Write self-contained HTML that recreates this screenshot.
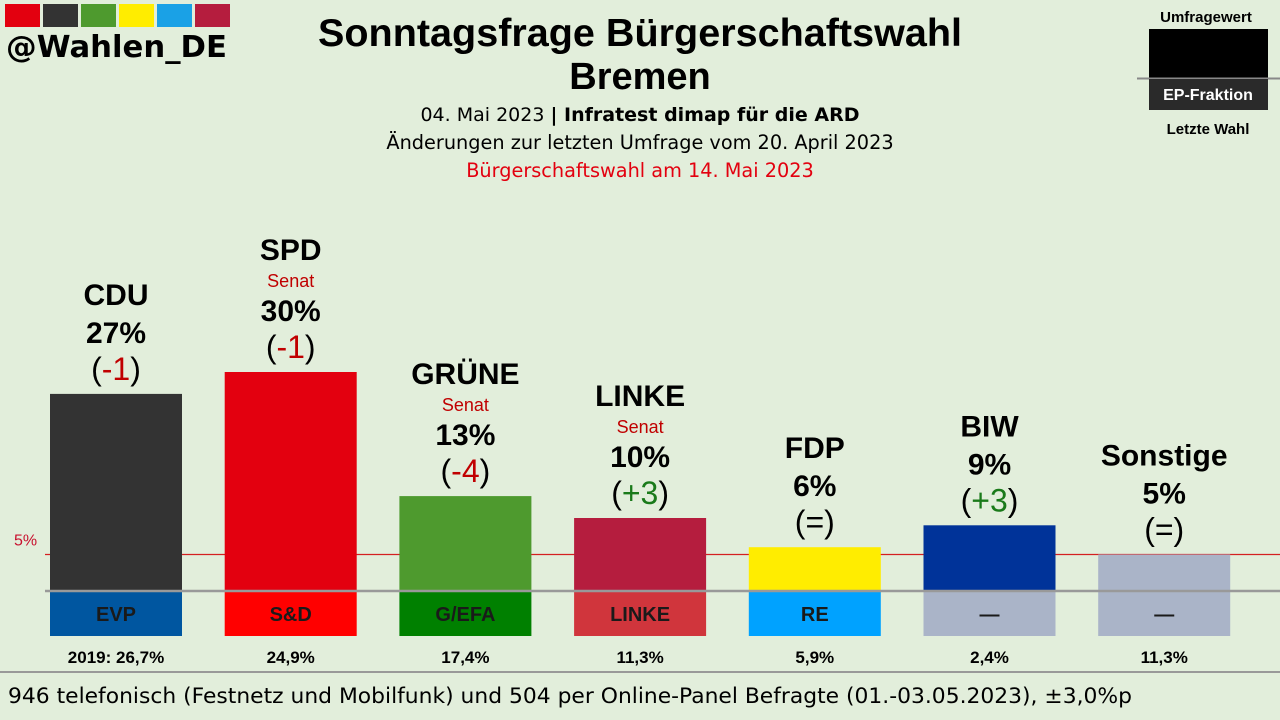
<!DOCTYPE html>
<html><head><meta charset="utf-8">
<style>
body{margin:0;background:#e2eedb;font-family:"Liberation Sans",sans-serif;}
svg{display:block}
.dv{font-family:"DejaVu Sans",sans-serif;}
</style></head>
<body>
<svg id="c" width="1280" height="720" xmlns="http://www.w3.org/2000/svg">
<rect width="1280" height="720" fill="#e2eedb"/>
<g>
<rect x="5" y="4" width="35" height="23" fill="#e3000f"/><rect x="43" y="4" width="35" height="23" fill="#333"/>
<rect x="81" y="4" width="35" height="23" fill="#4e9a2e"/><rect x="119" y="4" width="35" height="23" fill="#ffed00"/>
<rect x="157" y="4" width="35" height="23" fill="#1aa1e6"/><rect x="195" y="4" width="35" height="23" fill="#b51d3e"/>
<text class="dv" x="6" y="57" font-size="30" font-weight="bold" fill="#000" textLength="221" lengthAdjust="spacingAndGlyphs">@Wahlen_DE</text>
</g>
<text x="640" y="46" text-anchor="middle" font-size="39" font-weight="bold" textLength="644" lengthAdjust="spacingAndGlyphs">Sonntagsfrage Bürgerschaftswahl</text>
<text x="640" y="89" text-anchor="middle" font-size="38" font-weight="bold">Bremen</text>
<text class="dv" x="640" y="121" text-anchor="middle" font-size="19">04. Mai 2023 <tspan font-weight="bold">| Infratest dimap für die ARD</tspan></text>
<text class="dv" x="640" y="149" text-anchor="middle" font-size="19.3">Änderungen zur letzten Umfrage vom 20. April 2023</text>
<text class="dv" x="640" y="177" text-anchor="middle" font-size="19.3" fill="#e3000f">Bürgerschaftswahl am 14. Mai 2023</text>
<g>
<text x="1206" y="22" text-anchor="middle" font-size="15" font-weight="bold">Umfragewert</text>
<rect x="1149" y="29" width="119" height="49" fill="#000"/>
<line x1="1137" y1="78.5" x2="1280" y2="78.5" stroke="#888" stroke-width="2"/>
<rect x="1149" y="79" width="119" height="31" fill="#2a2a2a"/>
<text x="1208" y="100" text-anchor="middle" font-size="16" font-weight="bold" fill="#fff">EP-Fraktion</text>
<text x="1208" y="134" text-anchor="middle" font-size="15" font-weight="bold">Letzte Wahl</text>
</g>
<g id="bars"></g>
<line x1="0" y1="672" x2="1280" y2="672" stroke="#999" stroke-width="2"/>
<text class="dv" x="8" y="703" font-size="21.5" textLength="1124" lengthAdjust="spacingAndGlyphs">946 telefonisch (Festnetz und Mobilfunk) und 504 per Online-Panel Befragte (01.-03.05.2023), ±3,0%p</text>
</svg>
<script>
const parties=["CDU","SPD","GRÜNE","LINKE","FDP","BIW","Sonstige"];
const values=[27,30,13,10,6,9,5];
const changes=["-1","-1","-4","+3","=","+3","="];
const senat=[false,true,true,true,false,false,false];
const epGroups=["EVP","S&D","G/EFA","LINKE","RE","—","—"];
const lastElection=["2019: 26,7%","24,9%","17,4%","11,3%","5,9%","2,4%","11,3%"];
const barColors=["#333333","#e3000f","#4e9a2e","#b51d3e","#ffed00","#003399","#aab4c8"];
const epColors=["#0056a0","#ff0000","#008000","#d0353c","#00a2ff","#aab4c8","#aab4c8"];
const threshold=5;
const NS="http://www.w3.org/2000/svg";
const base=591, scale=7.3, x0=116, step=174.7, bw=132;
const yS=v=>base-v*scale;
const xS=i=>x0+i*step;
const g=document.getElementById('bars');
function mk(tag,attrs,txt){const e=document.createElementNS(NS,tag);for(const k in attrs)e.setAttribute(k,attrs[k]);if(txt!==undefined)e.textContent=txt;g.appendChild(e);return e;}
const ty=yS(threshold);
const tl=mk('line',{x1:45,x2:1280,y1:ty,y2:ty,stroke:'#d42020','stroke-width':1.3});


const tt=mk('text',{x:14,y:ty-9,'font-size':16,fill:'#c8102e'},threshold+'%');


parties.forEach((p,i)=>{
  const cx=xS(i), top=yS(values[i]);
  const r=mk('rect',{x:cx-bw/2,y:top,width:bw,height:base-top,fill:barColors[i]});
  
  
  const ch=changes[i];
  const chCol=ch.startsWith('-')?'#c00000':(ch.startsWith('+')?'#1a7a1a':'#000');
  const c=mk('text',{x:cx,y:top-14,'text-anchor':'middle','font-size':32});
  c.innerHTML='(<tspan fill="'+chCol+'">'+ch+'</tspan>)';
  
  
  const pc=mk('text',{x:cx,y:top-51,'text-anchor':'middle','font-size':30,'font-weight':'bold'},values[i]+'%');
  
  
  let ny=top-89;
  if(senat[i]){
    const s=mk('text',{x:cx,y:top-85,'text-anchor':'middle','font-size':18,fill:'#c00000'},'Senat');
    
    
    ny=top-112;
  }
  const n=mk('text',{x:cx,y:ny,'text-anchor':'middle','font-size':30,'font-weight':'bold'},p);
  
  
  const e=mk('rect',{x:cx-bw/2,y:592,width:bw,height:44,fill:epColors[i]});
  
  
  const et=mk('text',{x:cx,y:621,'text-anchor':'middle','font-size':20,'font-weight':'bold',fill:'#1a1a1a'},epGroups[i]);
  
  
  const l=mk('text',{x:cx,y:663,'text-anchor':'middle','font-size':17,'font-weight':'bold'},lastElection[i]);
  
  
});
const bl=mk('line',{x1:45,x2:1280,y1:591,y2:591,stroke:'#999','stroke-width':2.5});


</script>
</body></html>
